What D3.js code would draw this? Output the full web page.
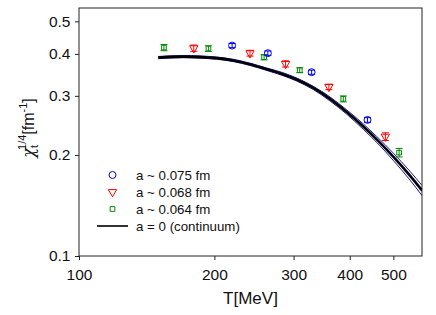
<!DOCTYPE html>
<html>
<head>
<meta charset="utf-8">
<script src="https://cdn.jsdelivr.net/npm/d3@7"></script>
<style>
  body { margin: 0; background: #fff; }
  svg { display: block; font-family: "Liberation Sans", Arial, sans-serif; }
</style>
</head>
<body>
<svg id="chart" width="436" height="315"></svg>
<script>
// data
const blueT = [219, 263, 329, 438];
const blueV = [0.4235, 0.402, 0.3528, 0.2543];
const blueErr = [0.006, 0.006, 0.005, 0.004];

const redT = [180, 240, 288, 359.5, 480];
const redV = [0.416, 0.402, 0.3735, 0.319, 0.2268];
const redErr = [0.009, 0.008, 0.008, 0.006, 0.006];

const greenT = [154.5, 194, 258, 309.6, 387, 515];
const greenV = [0.4178, 0.415, 0.391, 0.3577, 0.2938, 0.2032];
const greenErr = [0.009, 0.008, 0.007, 0.006, 0.006, 0.006];

const curveT = [150, 170.6, 202.4, 220.3, 239.9, 261.4, 283, 304.8, 331.9, 361.4, 393.8, 428.6, 459.1, 499.7, 544.4, 580];
const curveV = [0.390, 0.3927, 0.3885, 0.3825, 0.3725, 0.3601, 0.3487, 0.3356, 0.3167, 0.2938, 0.2685, 0.2430, 0.2226, 0.1977, 0.1736, 0.1564];
const curveErr = [0.003, 0.003, 0.003, 0.003, 0.003, 0.003, 0.0035, 0.0035, 0.0035, 0.004, 0.004, 0.0045, 0.0045, 0.005, 0.0052, 0.0055];

const xTicks = [100, 200, 300, 400, 500];
const yTicks = [0.1, 0.2, 0.3, 0.4, 0.5];

const legendLabels = ['a ~ 0.075 fm', 'a ~ 0.068 fm', 'a ~ 0.064 fm', 'a = 0 (continuum)'];

const margin = { left: 79, top: 8, right: 14, bottom: 59 };
const W = 436, H = 315;

const svg = d3.select('#chart');

const x = d3.scaleLog().domain([100, 579]).range([margin.left, W - margin.right]);
const y = d3.scaleLog().domain([0.1, 0.548]).range([H - margin.bottom, margin.top]);

svg.append('defs').append('clipPath').attr('id', 'clip')
  .append('rect')
  .attr('x', x.range()[0]).attr('y', y.range()[1])
  .attr('width', x.range()[1] - x.range()[0])
  .attr('height', y.range()[0] - y.range()[1]);

// axes
const xAxis = d3.axisBottom(x).tickValues(xTicks).tickFormat(d3.format('d')).tickSize(4).tickSizeOuter(0);
const yAxis = d3.axisLeft(y).tickValues(yTicks).tickFormat(d3.format('.1f')).tickSize(4).tickSizeOuter(0);

const gx = svg.append('g').attr('transform', `translate(0,${y.range()[0]})`).call(xAxis);
const gy = svg.append('g').attr('transform', `translate(${x.range()[0]},0)`).call(yAxis);

[gx, gy].forEach(g => {
  g.select('.domain').remove();
  g.selectAll('.tick line').attr('stroke', '#222');
  g.selectAll('.tick text').attr('font-size', 15.5).attr('fill', '#111')
    .style('font-family', '"Liberation Sans", Arial, sans-serif');
});
gx.selectAll('.tick text').attr('dy', '1.1em');
gy.selectAll('.tick text').attr('dx', '-0.1em');

// frame
svg.append('rect')
  .attr('x', x.range()[0]).attr('y', y.range()[1])
  .attr('width', x.range()[1] - x.range()[0])
  .attr('height', y.range()[0] - y.range()[1])
  .attr('fill', 'none').attr('stroke', '#222').attr('stroke-width', 1);

// continuum band
const plot = svg.append('g').attr('clip-path', 'url(#clip)');
const idx = d3.range(curveT.length);
const line = d3.line().curve(d3.curveMonotoneX);

plot.append('path')
  .attr('d', line(idx.map(i => [x(curveT[i]), y(curveV[i] + curveErr[i])])))
  .attr('fill', 'none').attr('stroke', '#1a1aa6').attr('stroke-width', 1);
plot.append('path')
  .attr('d', line(idx.map(i => [x(curveT[i]), y(curveV[i] - curveErr[i])])))
  .attr('fill', 'none').attr('stroke', '#1a1aa6').attr('stroke-width', 1);
plot.append('path')
  .attr('d', line(idx.map(i => [x(curveT[i]), y(curveV[i])])))
  .attr('fill', 'none').attr('stroke', '#000').attr('stroke-width', 2.6);

// points with error bars
function errBars(T, V, E, color) {
  const g = plot.append('g').attr('stroke', color).attr('stroke-width', 1).attr('fill', 'none');
  T.forEach((t, i) => {
    const cx = x(t), y1 = y(V[i] + E[i]), y2 = y(V[i] - E[i]);
    g.append('line').attr('x1', cx).attr('x2', cx).attr('y1', y1).attr('y2', y2);
    g.append('line').attr('x1', cx - 3.5).attr('x2', cx + 3.5).attr('y1', y1).attr('y2', y1);
    g.append('line').attr('x1', cx - 3.5).attr('x2', cx + 3.5).attr('y1', y2).attr('y2', y2);
  });
}

const sym = {
  circle: d3.symbol().type(d3.symbolCircle).size(38),
  tri: d3.symbol().type(d3.symbolTriangle).size(30),
  square: d3.symbol().type(d3.symbolSquare).size(22)
};

function markers(T, V, s, color, rot) {
  plot.append('g').selectAll('path').data(T).join('path')
    .attr('d', s)
    .attr('transform', (t, i) => `translate(${x(t)},${y(V[i])}) rotate(${rot})`)
    .attr('fill', 'none').attr('stroke', color).attr('stroke-width', 1);
}

errBars(greenT, greenV, greenErr, '#008800');
markers(greenT, greenV, sym.square(), '#008800', 0);
errBars(redT, redV, redErr, '#ff0000');
markers(redT, redV, sym.tri(), '#ff0000', 180);
errBars(blueT, blueV, blueErr, '#0000ff');
markers(blueT, blueV, sym.circle(), '#0000ff', 0);

// legend
const lg = svg.append('g').attr('transform', 'translate(0,175)');
const lgColors = ['#0000ff', '#ff0000', '#008800'];
const lgSyms = [sym.circle(), sym.tri(), sym.square()];
const lgRot = [0, 180, 0];
legendLabels.forEach((lab, i) => {
  const ly = i * 17;
  if (i < 3) {
    lg.append('path').attr('d', lgSyms[i])
      .attr('transform', `translate(112.5,${ly}) rotate(${lgRot[i]})`)
      .attr('fill', 'none').attr('stroke', lgColors[i]).attr('stroke-width', 1);
  } else {
    lg.append('line').attr('x1', 97).attr('x2', 128).attr('y1', ly).attr('y2', ly)
      .attr('stroke', '#000').attr('stroke-width', 1.6);
  }
  lg.append('text').attr('x', 136).attr('y', ly).attr('dy', '0.35em')
    .attr('font-size', 13.3).attr('fill', '#111').text(lab);
});

// axis titles
svg.append('text')
  .attr('x', (x.range()[0] + x.range()[1]) / 2).attr('y', 304)
  .attr('text-anchor', 'middle').attr('font-size', 17).attr('fill', '#111')
  .text('T[MeV]');

const yt = svg.append('text')
  .attr('transform', `translate(34,${(y.range()[0] + y.range()[1]) / 2 - 4}) rotate(-90)`)
  .attr('text-anchor', 'middle').attr('font-size', 16).attr('fill', '#111');
yt.append('tspan').style('font-family', '"DejaVu Serif", serif').attr('font-style', 'italic').text('χ');
yt.append('tspan').attr('font-size', 11).attr('dy', 4).text('t');
yt.append('tspan').attr('font-size', 11).attr('dx', -5).attr('dy', -12).text('1/4');
yt.append('tspan').attr('dy', 8).text('[fm');
yt.append('tspan').attr('font-size', 11).attr('dy', -7).text('-1');
yt.append('tspan').attr('dy', 7).text(']');
</script>
</body>
</html>
